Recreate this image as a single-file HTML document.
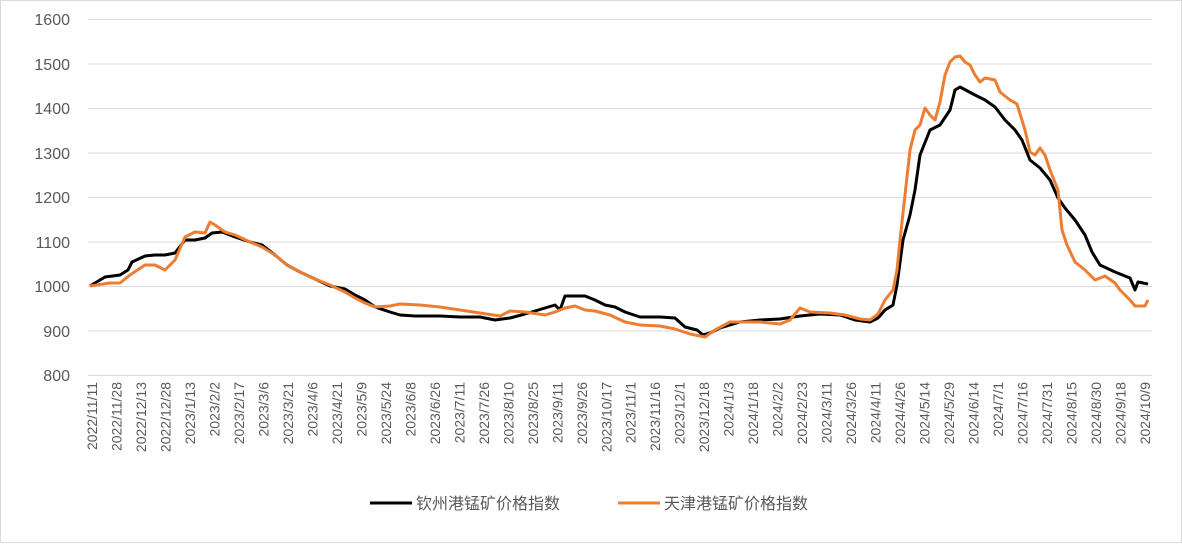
<!DOCTYPE html>
<html><head><meta charset="utf-8"><style>
body{margin:0;background:#fff}
svg text{font-family:"Liberation Sans","Noto Sans CJK SC",sans-serif;fill:#595959}
</style></head><body>
<svg width="1182" height="543" viewBox="0 0 1182 543" xmlns="http://www.w3.org/2000/svg">
<rect x="0.5" y="0.5" width="1181" height="542" fill="#fff" stroke="#d9d9d9"/>
<g stroke="#d9d9d9" stroke-width="1">
<line x1="88" x2="1152" y1="19.5" y2="19.5"/><line x1="88" x2="1152" y1="64" y2="64"/>
<line x1="88" x2="1152" y1="108.5" y2="108.5"/><line x1="88" x2="1152" y1="153" y2="153"/>
<line x1="88" x2="1152" y1="197.5" y2="197.5"/><line x1="88" x2="1152" y1="242" y2="242"/>
<line x1="88" x2="1152" y1="286.5" y2="286.5"/><line x1="88" x2="1152" y1="331" y2="331"/>
<line x1="88" x2="1152" y1="375.5" y2="375.5"/>
</g>
<g font-size="16" text-anchor="end">
<text x="70" y="25">1600</text><text x="70" y="70">1500</text><text x="70" y="114">1400</text>
<text x="70" y="159">1300</text><text x="70" y="203">1200</text><text x="70" y="248">1100</text>
<text x="70" y="292">1000</text><text x="70" y="337">900</text><text x="70" y="381">800</text>
</g>
<g font-size="14" text-anchor="end" id="xl"></g>
<polyline fill="none" stroke="#000" stroke-width="3" stroke-linejoin="round" points="90,286 100,280 105,277 120,275 128,270 132,262 145,256 155,255 165,255 175,253 185,240 195,240 205,238 212,233 222,232 235,237 250,242 262,245 275,255 287,265 300,272 315,279 330,286 345,289 355,295 365,300 375,307 390,312 400,315 415,316 440,316 460,317 480,317 495,320 510,318 525,314 545,308 555,305 560,310 565,296 575,296 585,296 595,300 605,305 615,307 625,312 640,317 660,317 675,318 685,327 697,330 703,335 710,333 720,328 740,322 760,320 780,319 800,316 820,314 840,315 855,320 870,322 878,318 885,310 893,305 897,285 903,240 910,215 915,190 920,155 930,130 940,125 950,110 955,90 960,87 975,95 985,100 995,107 1005,120 1015,130 1022,140 1030,160 1040,168 1050,180 1058,198 1065,208 1075,220 1085,235 1092,252 1100,265 1115,272 1130,278 1135,290 1138,282 1148,284"/>
<polyline fill="none" stroke="#ed7d31" stroke-width="3" stroke-linejoin="round" points="90,286 110,283 120,283 130,275 145,265 155,265 165,270 175,260 185,237 195,232 205,233 210,222 215,225 225,232 235,235 250,242 262,247 275,255 287,265 300,272 315,279 330,285 345,292 355,298 365,303 375,307 390,306 400,304 420,305 440,307 460,310 480,313 500,316 510,311 525,312 545,315 555,312 565,308 575,306 585,310 595,311 610,315 625,322 640,325 660,326 675,329 690,334 705,337 715,330 730,322 760,322 780,324 790,320 800,308 810,312 830,313 845,315 860,319 870,320 878,314 885,300 893,290 897,270 900,240 905,195 910,150 915,130 920,125 925,108 930,115 935,120 940,102 945,75 950,62 955,57 960,56 965,62 970,65 975,75 980,82 985,78 995,80 1000,92 1010,100 1017,104 1025,130 1030,152 1035,155 1040,148 1045,155 1050,170 1058,190 1062,230 1067,245 1075,262 1085,270 1095,280 1105,276 1115,283 1120,290 1130,300 1135,306 1145,306 1148,300"/>
<line x1="370" x2="412" y1="503" y2="503" stroke="#000" stroke-width="3"/>
<text x="416" y="509" font-size="16">钦州港锰矿价格指数</text>
<line x1="618" x2="660" y1="503" y2="503" stroke="#ed7d31" stroke-width="3"/>
<text x="664" y="509" font-size="16">天津港锰矿价格指数</text>
</svg>
<script>
var d="2022/11/11 2022/11/28 2022/12/13 2022/12/28 2023/1/13 2023/2/2 2023/2/17 2023/3/6 2023/3/21 2023/4/6 2023/4/21 2023/5/9 2023/5/24 2023/6/8 2023/6/26 2023/7/11 2023/7/26 2023/8/10 2023/8/25 2023/9/11 2023/9/26 2023/10/17 2023/11/1 2023/11/16 2023/12/1 2023/12/18 2024/1/3 2024/1/18 2024/2/2 2024/2/23 2024/3/11 2024/3/26 2024/4/11 2024/4/26 2024/5/14 2024/5/29 2024/6/14 2024/7/1 2024/7/16 2024/7/31 2024/8/15 2024/8/30 2024/9/18 2024/10/9".split(" ");
var g=document.getElementById("xl"),h="";
for(var i=0;i<d.length;i++){var x=97+i*(1150-97)/(d.length-1);h+='<text transform="translate('+x+',382) rotate(-90)">'+d[i]+'</text>';}
g.innerHTML=h;
</script>
</body></html>
